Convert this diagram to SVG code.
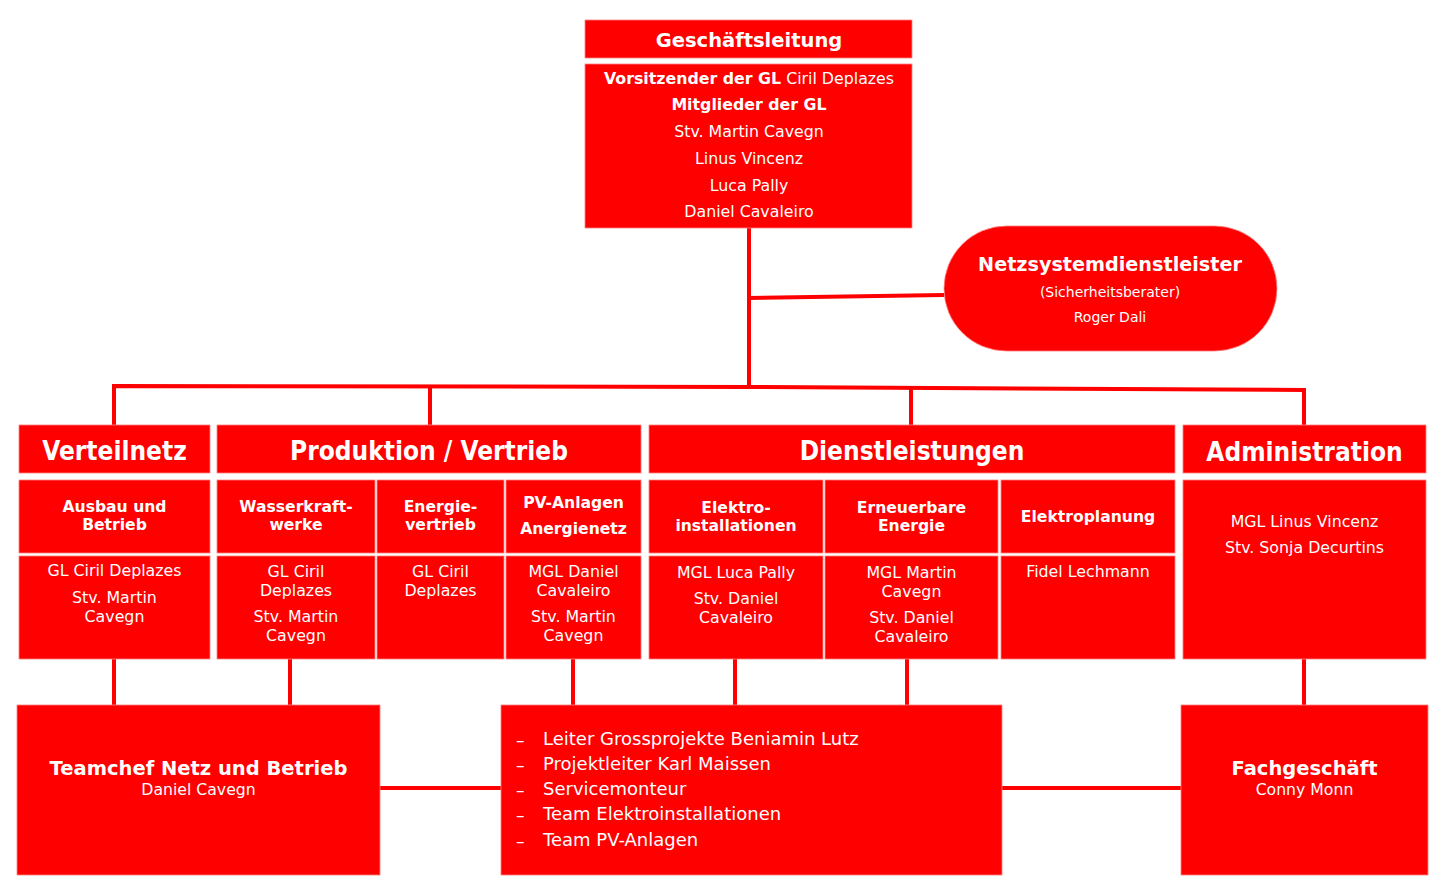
<svg xmlns="http://www.w3.org/2000/svg" width="1450" height="894" viewBox="0 0 1450 894">
<style>
.box{fill:#FF0000;stroke:#FF8080;stroke-width:0.8}
.con{stroke:#FF0000;stroke-width:4;fill:none}
.t{fill:#FFFFFF;font-family:"DejaVu Sans","Liberation Sans",sans-serif;text-anchor:middle}
.c{fill:#FFFFFF;font-family:"DejaVu Sans Condensed","DejaVu Sans","Liberation Sans",sans-serif;font-stretch:condensed;text-anchor:middle}
.b{font-weight:bold}
.h1{font-size:26px;font-weight:bold}
.sh{font-size:15.6px;font-weight:bold}
.n{font-size:15.8px}
.gl{font-size:15.8px}
.li{fill:#FFFFFF;font-family:"DejaVu Sans","Liberation Sans",sans-serif;font-size:18px}
.d{font-size:17px}
</style>
<rect width="1450" height="894" fill="#FFFFFF"/>
<g id="connectors">
<path class="con" d="M749 228 V387"/>
<path class="con" d="M749 298 L944 295"/>
<path class="con" d="M114 425 V386 L749 387 L1304 390 V425"/>
<path class="con" d="M430 388 V425"/>
<path class="con" d="M911 389 V425"/>
<path class="con" d="M114 659 V705"/>
<path class="con" d="M290 659 V705"/>
<path class="con" d="M573 659 V705"/>
<path class="con" d="M735 659 V705"/>
<path class="con" d="M907 659 V705"/>
<path class="con" d="M1304 659 V705"/>
<path class="con" d="M380 788 H501"/>
<path class="con" d="M1002 788 H1181"/>
</g>
<g id="geschaeftsleitung">
<rect class="box" x="585" y="20" width="327" height="38"/>
<text class="t b" x="749" y="47" font-size="19.5">Geschäftsleitung</text>
<rect class="box" x="585" y="64" width="327" height="164"/>
<text class="t gl" x="749" y="84"><tspan font-weight="bold">Vorsitzender der GL</tspan> Ciril Deplazes</text>
<text class="t gl b" x="749" y="110">Mitglieder der GL</text>
<text class="t gl" x="749" y="137">Stv. Martin Cavegn</text>
<text class="t gl" x="749" y="164">Linus Vincenz</text>
<text class="t gl" x="749" y="191">Luca Pally</text>
<text class="t gl" x="749" y="217">Daniel Cavaleiro</text>
</g>
<g id="netzsystemdienstleister">
<rect class="box" x="944" y="226" width="333" height="125" rx="62.5" ry="62.5"/>
<text class="t b" x="1110" y="271" font-size="19.2">Netzsystemdienstleister</text>
<text class="t" x="1110" y="297" font-size="14">(Sicherheitsberater)</text>
<text class="t" x="1110" y="322" font-size="14">Roger Dali</text>
</g>
<g id="verteilnetz">
<rect class="box" x="19" y="425" width="191" height="48"/>
<text class="c h1" x="114.5" y="460">Verteilnetz</text>
<rect class="box" x="19" y="480" width="191" height="73"/>
<text class="t sh" x="114.5" y="512">Ausbau und</text>
<text class="t sh" x="114.5" y="530">Betrieb</text>
<rect class="box" x="19" y="556" width="191" height="103"/>
<text class="t n" x="114.5" y="576">GL Ciril Deplazes</text>
<text class="t n" x="114.5" y="603">Stv. Martin</text>
<text class="t n" x="114.5" y="622">Cavegn</text>
</g>
<g id="produktion-vertrieb">
<rect class="box" x="217" y="425" width="424" height="48"/>
<text class="c h1" x="429" y="460">Produktion / Vertrieb</text>
<rect class="box" x="217" y="480" width="158" height="73"/>
<text class="t sh" x="296" y="512">Wasserkraft-</text>
<text class="t sh" x="296" y="530">werke</text>
<rect class="box" x="217" y="556" width="158" height="103"/>
<text class="t n" x="296" y="577">GL Ciril</text>
<text class="t n" x="296" y="596">Deplazes</text>
<text class="t n" x="296" y="622">Stv. Martin</text>
<text class="t n" x="296" y="641">Cavegn</text>
<rect class="box" x="377" y="480" width="127" height="73"/>
<text class="t sh" x="440.5" y="512">Energie-</text>
<text class="t sh" x="440.5" y="530">vertrieb</text>
<rect class="box" x="377" y="556" width="127" height="103"/>
<text class="t n" x="440.5" y="577">GL Ciril</text>
<text class="t n" x="440.5" y="596">Deplazes</text>
<rect class="box" x="506" y="480" width="135" height="73"/>
<text class="t sh" x="573.5" y="508">PV-Anlagen</text>
<text class="t sh" x="573.5" y="534">Anergienetz</text>
<rect class="box" x="506" y="556" width="135" height="103"/>
<text class="t n" x="573.5" y="577">MGL Daniel</text>
<text class="t n" x="573.5" y="596">Cavaleiro</text>
<text class="t n" x="573.5" y="622">Stv. Martin</text>
<text class="t n" x="573.5" y="641">Cavegn</text>
</g>
<g id="dienstleistungen">
<rect class="box" x="649" y="425" width="526" height="48"/>
<text class="c h1" x="912" y="460">Dienstleistungen</text>
<rect class="box" x="649" y="480" width="174" height="73"/>
<text class="t sh" x="736" y="513">Elektro-</text>
<text class="t sh" x="736" y="531">installationen</text>
<rect class="box" x="649" y="556" width="174" height="103"/>
<text class="t n" x="736" y="578">MGL Luca Pally</text>
<text class="t n" x="736" y="604">Stv. Daniel</text>
<text class="t n" x="736" y="623">Cavaleiro</text>
<rect class="box" x="825" y="480" width="173" height="73"/>
<text class="t sh" x="911.5" y="513">Erneuerbare</text>
<text class="t sh" x="911.5" y="531">Energie</text>
<rect class="box" x="825" y="556" width="173" height="103"/>
<text class="t n" x="911.5" y="578">MGL Martin</text>
<text class="t n" x="911.5" y="597">Cavegn</text>
<text class="t n" x="911.5" y="623">Stv. Daniel</text>
<text class="t n" x="911.5" y="642">Cavaleiro</text>
<rect class="box" x="1001" y="480" width="174" height="73"/>
<text class="t sh" x="1088" y="522">Elektroplanung</text>
<rect class="box" x="1001" y="556" width="174" height="103"/>
<text class="t n" x="1088" y="577">Fidel Lechmann</text>
</g>
<g id="administration">
<rect class="box" x="1183" y="425" width="243" height="48"/>
<text class="c h1" x="1304.5" y="461">Administration</text>
<rect class="box" x="1183" y="480" width="243" height="179"/>
<text class="t n" x="1304.5" y="527">MGL Linus Vincenz</text>
<text class="t n" x="1304.5" y="553">Stv. Sonja Decurtins</text>
</g>
<g id="teamchef">
<rect class="box" x="17" y="705" width="363" height="170"/>
<text class="t b" x="198.5" y="775" font-size="19.5">Teamchef Netz und Betrieb</text>
<text class="t" x="198.5" y="795" font-size="15.7">Daniel Cavegn</text>
</g>
<g id="projekte">
<rect class="box" x="501" y="705" width="501" height="170"/>
<g class="li">
<text class="d" x="516" y="746">–</text>
<text x="543" y="745">Leiter Grossprojekte Beniamin Lutz</text>
<text class="d" x="516" y="771">–</text>
<text x="543" y="770">Projektleiter Karl Maissen</text>
<text class="d" x="516" y="796">–</text>
<text x="543" y="795">Servicemonteur</text>
<text class="d" x="516" y="821">–</text>
<text x="543" y="820">Team Elektroinstallationen</text>
<text class="d" x="516" y="847">–</text>
<text x="543" y="846">Team PV-Anlagen</text>
</g>
</g>
<g id="fachgeschaeft">
<rect class="box" x="1181" y="705" width="247" height="170"/>
<text class="t b" x="1304.5" y="775" font-size="19.5">Fachgeschäft</text>
<text class="t" x="1304.5" y="795" font-size="15.7">Conny Monn</text>
</g>
</svg>
